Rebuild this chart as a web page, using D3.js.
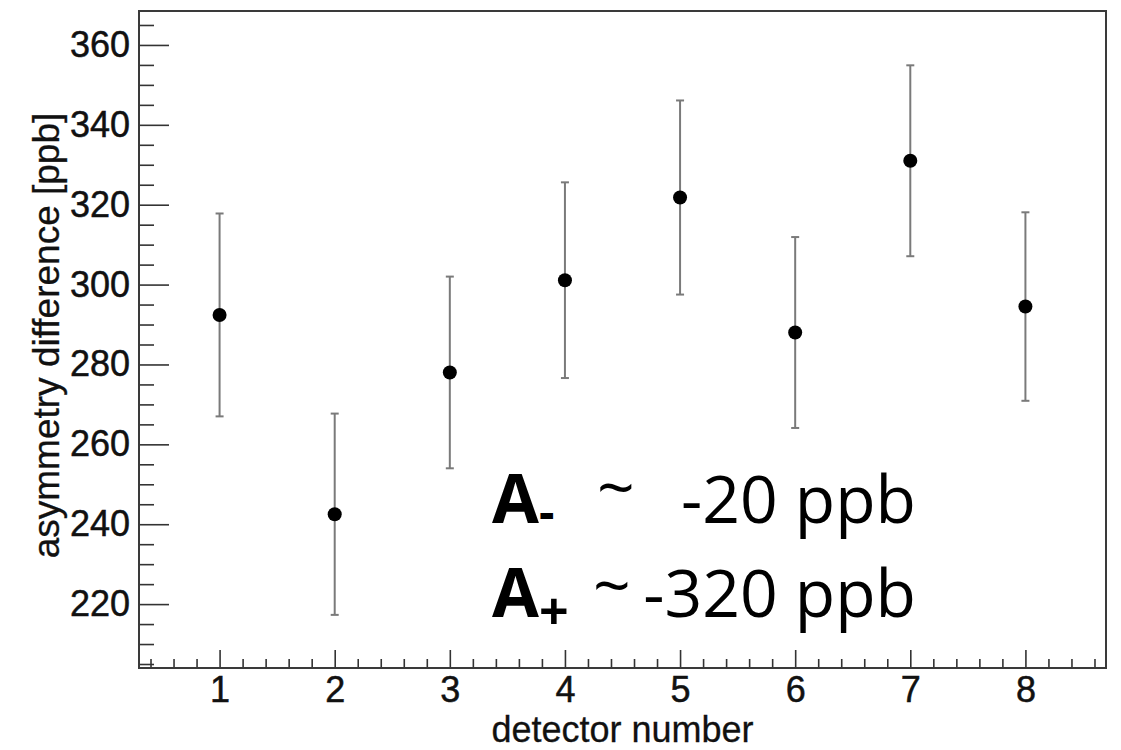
<!DOCTYPE html>
<html lang="en">
<head>
  <meta charset="utf-8">
  <title>asymmetry difference per detector</title>
  <script src="https://d3js.org/d3.v7.min.js"></script>
  <style>
    body { margin: 0; background: #fff; }
    .tick text { font-family: "Liberation Sans", Arial, sans-serif; font-size: 36px; fill: #111; stroke: #111; stroke-width: 0.5; }
    .tick line { stroke: #333; stroke-width: 1.6; }
    .titulo { font-family: "Liberation Sans", Arial, sans-serif; font-size: 37px; fill: #111; stroke: #111; stroke-width: 0.3; }
    .nota { font-family: "Open Sans", sans-serif; fill: #000; }
  </style>
</head>
<body>
<div id="chart"></div>
<script>
"use strict"
// dados
var detectores = [1, 2, 3, 4, 5, 6, 7, 8];
var valores = [292.4, 242.5, 278.0, 301.1, 321.8, 288.0, 331.0, 294.5];
var erros = [25.4, 25.2, 24.0, 24.5, 24.3, 23.9, 23.9, 23.6];
var ticksY = [220, 240, 260, 280, 300, 320, 340, 360];
var ticksX = [1, 2, 3, 4, 5, 6, 7, 8];
var linhasNota = [
  {base: "A", sub: "-", meio: "~", valor: "-20 ppb"},
  {base: "A", sub: "+", meio: "~", valor: "-320 ppb"}
];

var larguraSVG = 1121, alturaSVG = 750;
var margin = {top: 11, right: 15, bottom: 82, left: 139};
var larguraVis = larguraSVG - margin.left - margin.right,
    alturaVis = alturaSVG - margin.top - margin.bottom;

var svg = d3.select('#chart').append('svg')
  .attr('width', larguraSVG).attr('height', alturaSVG);
var grafico = svg.append('g')
  .attr('transform', 'translate(' + margin.left + ',' + margin.top + ')');

var x = d3.scaleLinear().domain([0.3, 8.7]).range([0, larguraVis]);
var y = d3.scaleLinear().domain([204, 368.5]).range([alturaVis, 0]);

// ticks menores
var menoresY = d3.range(205, 368, 5).filter(v => v % 20 !== 0);
var menoresX = d3.range(4, 87, 2).map(v => v / 10).filter(v => Math.abs(v - Math.round(v)) > 1e-6);

grafico.append('g')
  .call(d3.axisLeft(y).tickValues(menoresY).tickSize(-15).tickFormat(''))
  .call(g => g.select('.domain').remove());
grafico.append('g')
  .call(d3.axisLeft(y).tickValues(ticksY).tickSize(-30).tickPadding(9).tickFormat(d3.format('d')))
  .call(g => g.select('.domain').remove());

grafico.append('g')
  .attr('transform', 'translate(0,' + alturaVis + ')')
  .call(d3.axisBottom(x).tickValues(menoresX).tickSize(-9).tickFormat(''))
  .call(g => g.select('.domain').remove());
grafico.append('g')
  .attr('transform', 'translate(0,' + alturaVis + ')')
  .call(d3.axisBottom(x).tickValues(ticksX).tickSize(-18).tickPadding(8).tickFormat(d3.format('d')))
  .call(g => g.select('.domain').remove());

// moldura
grafico.append('rect')
  .attr('width', larguraVis).attr('height', alturaVis)
  .attr('fill', 'none').attr('stroke', '#3a3a3a').attr('stroke-width', 2);

// barras de erro
var pontos = detectores.map((d, i) => ({x: d, v: valores[i], e: erros[i]}));
var barras = grafico.append('g').attr('stroke', '#7a7a7a').attr('stroke-width', 2);
barras.selectAll('.err').data(pontos).enter().append('line')
  .attr('x1', d => x(d.x)).attr('x2', d => x(d.x))
  .attr('y1', d => y(d.v - d.e)).attr('y2', d => y(d.v + d.e));
barras.selectAll('.capA').data(pontos).enter().append('line')
  .attr('x1', d => x(d.x) - 4).attr('x2', d => x(d.x) + 4)
  .attr('y1', d => y(d.v + d.e)).attr('y2', d => y(d.v + d.e));
barras.selectAll('.capB').data(pontos).enter().append('line')
  .attr('x1', d => x(d.x) - 4).attr('x2', d => x(d.x) + 4)
  .attr('y1', d => y(d.v - d.e)).attr('y2', d => y(d.v - d.e));

grafico.selectAll('circle').data(pontos).enter().append('circle')
  .attr('cx', d => x(d.x)).attr('cy', d => y(d.v)).attr('r', 7).attr('fill', '#000');

// titulos dos eixos
svg.append('text').attr('class', 'titulo')
  .attr('text-anchor', 'middle')
  .attr('font-size', 36)
  .style('font-size', '36px')
  .attr('x', margin.left + larguraVis / 2).attr('y', 742)
  .text('detector number');
svg.append('text').attr('class', 'titulo')
  .attr('text-anchor', 'middle')
  .attr('transform', 'translate(59,' + (margin.top + alturaVis / 2 - 4) + ') rotate(-90)')
  .text('asymmetry difference [ppb]');

// anotacao
var basesY = [523, 617];
var posSub = [{dy: 6, size: 48}, {dy: 13, size: 52}];
var posTil = [{x: 597, dy: -12}, {x: 593, dy: -8}];
linhasNota.forEach(function (l, i) {
  var t = svg.append('text').attr('class', 'nota').attr('y', basesY[i]);
  t.append('tspan').attr('x', 492).attr('font-weight', 'bold').attr('font-size', 68).text(l.base);
  t.append('tspan').attr('font-weight', 'bold').attr('font-size', posSub[i].size)
    .attr('dy', posSub[i].dy).text(l.sub);
  svg.append('text').attr('class', 'nota').attr('x', posTil[i].x).attr('y', basesY[i] + posTil[i].dy)
    .attr('font-size', 66).text(l.meio);
  svg.append('text').attr('class', 'nota').attr('x', 916).attr('y', basesY[i])
    .attr('text-anchor', 'end').attr('font-size', 66).text(l.valor);
});
</script>
</body>
</html>
